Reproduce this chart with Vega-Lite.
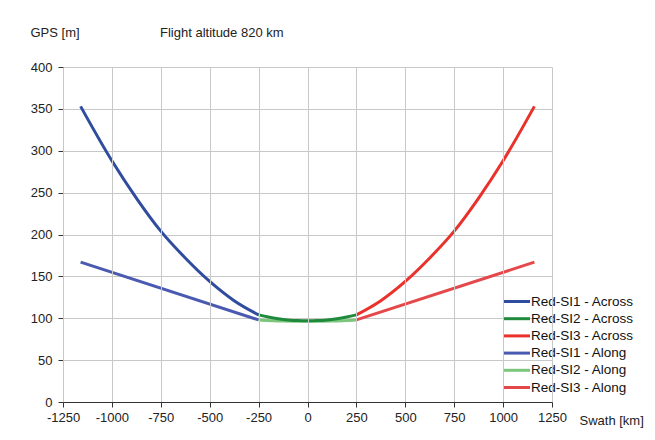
{
  "$schema": "https://vega.github.io/schema/vega-lite/v6.json",
  "autosize": {"type": "none"},
  "padding": {"left": 63, "top": 67, "right": 103, "bottom": 38},
  "width": 489,
  "height": 335,
  "background": "white",
  "title": {"text": "Flight altitude 820 km", "anchor": "start", "frame": "group", "dx": 97, "offset": -20, "fontSize": 13, "fontWeight": "normal", "font": "Liberation Sans", "color": "#222", "baseline": "middle"},
  "datasets": {
    "across": [
      {"series": "Red-SI1 - Across", "x": -1160, "y": 353},
      {"series": "Red-SI1 - Across", "x": -1000, "y": 288},
      {"series": "Red-SI1 - Across", "x": -875, "y": 243.5},
      {"series": "Red-SI1 - Across", "x": -750, "y": 204},
      {"series": "Red-SI1 - Across", "x": -625, "y": 172},
      {"series": "Red-SI1 - Across", "x": -500, "y": 144},
      {"series": "Red-SI1 - Across", "x": -375, "y": 121},
      {"series": "Red-SI1 - Across", "x": -250, "y": 104},
      {"series": "Red-SI2 - Across", "x": -250, "y": 104},
      {"series": "Red-SI2 - Across", "x": -200, "y": 101.5},
      {"series": "Red-SI2 - Across", "x": -150, "y": 99.5},
      {"series": "Red-SI2 - Across", "x": -100, "y": 98},
      {"series": "Red-SI2 - Across", "x": -50, "y": 97.2},
      {"series": "Red-SI2 - Across", "x": 0, "y": 97},
      {"series": "Red-SI2 - Across", "x": 50, "y": 97.2},
      {"series": "Red-SI2 - Across", "x": 100, "y": 98},
      {"series": "Red-SI2 - Across", "x": 150, "y": 99.5},
      {"series": "Red-SI2 - Across", "x": 200, "y": 101.5},
      {"series": "Red-SI2 - Across", "x": 250, "y": 104},
      {"series": "Red-SI3 - Across", "x": 250, "y": 104},
      {"series": "Red-SI3 - Across", "x": 375, "y": 121},
      {"series": "Red-SI3 - Across", "x": 500, "y": 144},
      {"series": "Red-SI3 - Across", "x": 625, "y": 172},
      {"series": "Red-SI3 - Across", "x": 750, "y": 204},
      {"series": "Red-SI3 - Across", "x": 875, "y": 243.5},
      {"series": "Red-SI3 - Across", "x": 1000, "y": 288},
      {"series": "Red-SI3 - Across", "x": 1160, "y": 353}
    ],
    "along": [
      {"series": "Red-SI1 - Along", "x": -1160, "y": 167},
      {"series": "Red-SI1 - Along", "x": -250, "y": 98},
      {"series": "Red-SI2 - Along", "x": -250, "y": 98},
      {"series": "Red-SI2 - Along", "x": -125, "y": 96.8},
      {"series": "Red-SI2 - Along", "x": 0, "y": 96.5},
      {"series": "Red-SI2 - Along", "x": 125, "y": 96.8},
      {"series": "Red-SI2 - Along", "x": 250, "y": 98},
      {"series": "Red-SI3 - Along", "x": 250, "y": 98},
      {"series": "Red-SI3 - Along", "x": 1160, "y": 167}
    ]
  },
  "encoding": {
    "x": {"field": "x", "type": "quantitative", "scale": {"domain": [-1250, 1250], "nice": false, "zero": false},
      "axis": {"values": [-1250, -1000, -750, -500, -250, 0, 250, 500, 750, 1000, 1250], "labelExpr": "'' + datum.value", "title": "Swath [km]", "titleX": 516, "titleY": 18, "titleAlign": "left", "titleBaseline": "middle", "labelPadding": 4, "labelBound": false, "zindex": 2}},
    "y": {"field": "y", "type": "quantitative", "scale": {"domain": [0, 400], "nice": false},
      "axis": {"values": [0, 50, 100, 150, 200, 250, 300, 350, 400], "labelExpr": "'' + datum.value", "title": "GPS [m]", "titleAngle": 0, "titleX": -33, "titleY": -35, "titleAlign": "left", "titleBaseline": "middle", "labelPadding": 6}},
    "color": {"field": "series", "type": "nominal",
      "legend": {"title": null, "encode": {"symbols": {"update": {"strokeWidth": [{"test": "indexof(datum.value, 'Along') >= 0", "value": 1.2}, {"value": 3}]}}}},
      "scale": {"domain": ["Red-SI1 - Across", "Red-SI2 - Across", "Red-SI3 - Across", "Red-SI1 - Along", "Red-SI2 - Along", "Red-SI3 - Along"],
        "range": ["#2f4c9e", "#1f8a3c", "#e8322b", "#4a5ab0", "#7cc67c", "#e5484a"]}},
    "strokeWidth": {"field": "series", "type": "nominal", "legend": null,
      "scale": {"domain": ["Red-SI1 - Across", "Red-SI2 - Across", "Red-SI3 - Across", "Red-SI1 - Along", "Red-SI2 - Along", "Red-SI3 - Along"],
        "range": [3, 3, 3, 1.1, 1.1, 1.1]}}
  },
  "layer": [
    {"data": {"name": "along"}, "mark": {"type": "line", "interpolate": "monotone"}},
    {"data": {"name": "across"}, "mark": {"type": "line", "interpolate": "monotone"}}
  ],
  "config": {
    "font": "Liberation Sans",
    "view": {"stroke": null},
    "axis": {"labelFont": "Liberation Sans", "labelFontSize": 13, "labelColor": "#222", "titleFont": "Liberation Sans", "titleFontSize": 13, "titleFontWeight": "normal", "titleColor": "#222",
      "gridColor": "#c8c8c8", "gridWidth": 1, "domainColor": "#333", "tickColor": "#333", "tickSize": 5, "labelFlush": false, "labelOverlap": false},
    "legend": {"orient": "none", "legendX": 445, "legendY": 226, "padding": 0, "labelFont": "Liberation Sans", "labelFontSize": 13.5, "labelColor": "#111", "symbolType": "M-2,0H2", "symbolSize": 182, "labelOffset": 6, "rowPadding": 2.2, "symbolOpacity": 1, "labelLimit": 200}
  }
}
